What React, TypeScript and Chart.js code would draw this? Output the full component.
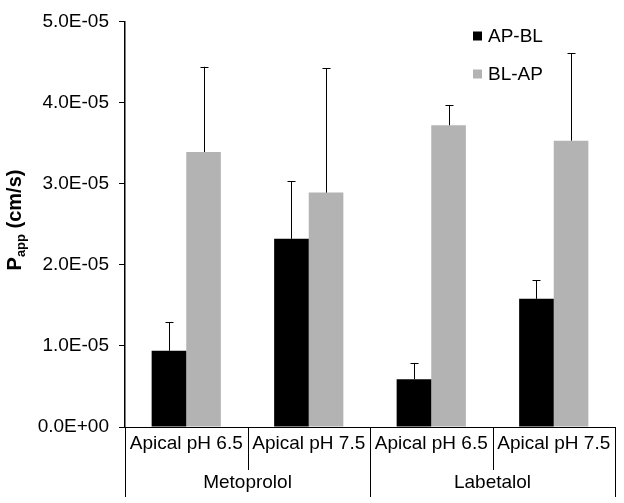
import React, { useEffect, useRef } from "react";
import { Chart, registerables } from "chart.js";

Chart.register(...registerables);

const subCategories = ["Apical pH 6.5", "Apical pH 7.5", "Apical pH 6.5", "Apical pH 7.5"];
const groups = ["Metoprolol", "Labetalol"];
const seriesNames = ["AP-BL", "BL-AP"];
const apbl = [9.4e-6, 2.32e-5, 5.9e-6, 1.58e-5];
const apblErr = [3.5e-6, 7.1e-6, 2.0e-6, 2.3e-6];
const blap = [3.39e-5, 2.89e-5, 3.72e-5, 3.53e-5];
const blapErr = [1.05e-5, 1.53e-5, 2.5e-6, 1.08e-5];
const yTicks = [0, 1e-5, 2e-5, 3e-5, 4e-5, 5e-5];
const colors = ["#000000", "#b3b3b3"];

const FONT = "'Liberation Sans', Arial, sans-serif";

function fmtExp(v: number): string {
  if (v === 0) return "0.0E+00";
  const e = Math.floor(Math.log10(Math.abs(v)) + 1e-9);
  const m = v / Math.pow(10, e);
  const sign = e < 0 ? "-" : "+";
  const ea = Math.abs(e);
  return m.toFixed(1) + "E" + sign + (ea < 10 ? "0" + ea : "" + ea);
}

const customPlugin = {
  id: "custom",
  afterDatasetsDraw(chart: any) {
    const ctx = chart.ctx;
    const y = chart.scales.y;
    const x = chart.scales.x;
    const errs = [apblErr, blapErr];
    ctx.save();
    // error bars
    ctx.strokeStyle = "#000";
    ctx.lineWidth = 1;
    chart.data.datasets.forEach((ds: any, di: number) => {
      const meta = chart.getDatasetMeta(di);
      meta.data.forEach((el: any, i: number) => {
        const top = y.getPixelForValue(ds.data[i] + errs[di][i]);
        const cx = Math.round(el.x) + 0.5;
        ctx.beginPath();
        ctx.moveTo(cx, el.y);
        ctx.lineTo(cx, top);
        ctx.moveTo(cx - 4, Math.round(top) + 0.5);
        ctx.lineTo(cx + 4, Math.round(top) + 0.5);
        ctx.stroke();
      });
    });
    // x axis multi-level labels
    const bottom = chart.chartArea.bottom;
    const n = subCategories.length;
    const half = (x.getPixelForValue(1) - x.getPixelForValue(0)) / 2;
    ctx.strokeStyle = "#000";
    ctx.lineWidth = 1;
    for (let i = 0; i <= n; i++) {
      const px = Math.round((i < n ? x.getPixelForValue(i) - half : x.getPixelForValue(n - 1) + half)) + 0.5;
      const outer = i % 2 === 0;
      ctx.beginPath();
      ctx.moveTo(px, bottom);
      ctx.lineTo(px, outer ? bottom + 70 : bottom + 43);
      ctx.stroke();
    }
    ctx.fillStyle = "#000";
    ctx.textAlign = "center";
    ctx.textBaseline = "middle";
    ctx.font = "19px " + FONT;
    subCategories.forEach((lab, i) => {
      ctx.fillText(lab, x.getPixelForValue(i), bottom + 17);
    });
    groups.forEach((g, gi) => {
      const c = (x.getPixelForValue(gi * 2) + x.getPixelForValue(gi * 2 + 1)) / 2;
      ctx.fillText(g, c, bottom + 56);
    });
    // legend
    ctx.textAlign = "left";
    seriesNames.forEach((nm, i) => {
      const ly = 36 + i * 38;
      ctx.fillStyle = colors[i];
      ctx.fillRect(473, ly - 4.5, 9, 9);
      ctx.fillStyle = "#000";
      ctx.fillText(nm, 488, ly + 1);
    });
    // y title
    ctx.save();
    ctx.translate(14, 220);
    ctx.rotate(-Math.PI / 2);
    ctx.textBaseline = "alphabetic";
    const f1 = "bold 20px " + FONT;
    const f2 = "bold 13px " + FONT;
    ctx.font = f1;
    const wP = ctx.measureText("P").width;
    const wR = ctx.measureText(" (cm/s)").width;
    ctx.font = f2;
    const wS = ctx.measureText("app").width;
    let sx = -(wP + wS + wR) / 2;
    const by = 7;
    ctx.font = f1;
    ctx.fillText("P", sx, by);
    sx += wP;
    ctx.font = f2;
    ctx.fillText("app", sx, by + 4);
    sx += wS;
    ctx.font = f1;
    ctx.fillText(" (cm/s)", sx, by);
    ctx.restore();
    ctx.restore();
  },
};

export default function App() {
  const ref = useRef<HTMLCanvasElement>(null);
  useEffect(() => {
    if (!ref.current) return;
    const chart = new Chart(ref.current, {
      type: "bar",
      data: {
        labels: subCategories,
        datasets: [
          { label: seriesNames[0], data: apbl, backgroundColor: colors[0], categoryPercentage: 0.565, barPercentage: 1 },
          { label: seriesNames[1], data: blap, backgroundColor: colors[1], categoryPercentage: 0.565, barPercentage: 1 },
        ],
      },
      options: {
        animation: false,
        responsive: false,
        layout: { padding: { top: 15, right: 9, left: 0, bottom: 0 } },
        plugins: { legend: { display: false }, tooltip: { enabled: false } },
        scales: {
          x: {
            ticks: { display: false },
            grid: { display: false },
            border: { display: true, color: "#000", width: 1 },
            afterFit(scale: any) {
              scale.height = 76;
            },
          },
          y: {
            min: 0,
            max: 5e-5,
            afterBuildTicks(scale: any) {
              scale.ticks = yTicks.map((v) => ({ value: v }));
            },
            ticks: {
              callback: (v: any) => fmtExp(Number(v)),
              color: "#000",
              font: { family: FONT, size: 19 },
              padding: 10,
            },
            grid: { drawOnChartArea: false, drawTicks: true, tickLength: 6, color: "#000" },
            border: { display: true, color: "#000", width: 1.5 },
            afterFit(scale: any) {
              scale.width = 125;
            },
          },
        },
      },
      plugins: [customPlugin],
    });
    return () => chart.destroy();
  }, []);
  return (
    <div style={{ position: "fixed", left: 0, top: 0, width: 624, height: 503, background: "#fff" }}>
      <canvas ref={ref} width={624} height={503} style={{ width: 624, height: 503 }} />
    </div>
  );
}
